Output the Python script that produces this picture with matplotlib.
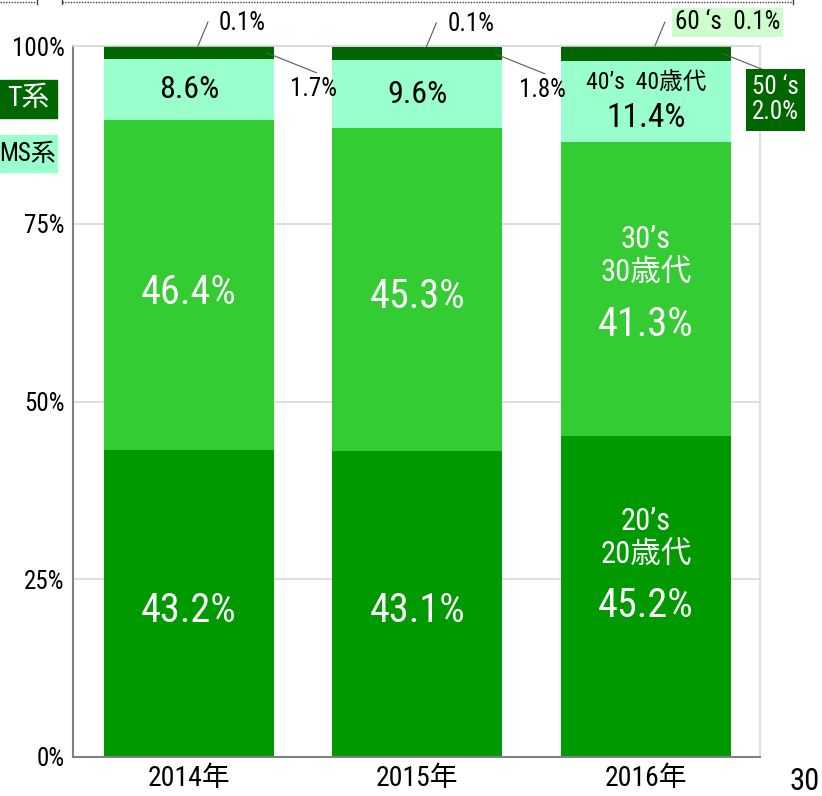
import matplotlib
matplotlib.use("Agg")
import matplotlib.pyplot as plt
from matplotlib.patches import Rectangle
from matplotlib.lines import Line2D

# ======= DATA ==========
years = ["2014年", "2015年", "2016年"]
age_20s = [43.2, 43.1, 45.2]
age_30s = [46.4, 45.3, 41.3]
age_40s = [8.6, 9.6, 11.4]
age_50s = [1.7, 1.8, 2.0]
age_60s = [0.1, 0.1, 0.1]
y_ticks = [0, 25, 50, 75, 100]
# =======================

plt.rcParams['font.family'] = ['Roboto Condensed', 'Noto Sans CJK JP', 'DejaVu Sans']

c20, c30, c40, c50 = "#009900", "#33CC33", "#99FFCC", "#006600"

fig = plt.figure(figsize=(8.22, 7.96), dpi=100)
W, H = 822, 796
ax = fig.add_axes([73 / W, 1 - 757 / H, 687 / W, 711 / H])

x = list(range(len(years)))
w = 0.744
b30 = age_20s
b40 = [a + b for a, b in zip(b30, age_30s)]
b50 = [a + b for a, b in zip(b40, age_40s)]
b60 = [a + b for a, b in zip(b50, age_50s)]
top = [a + b for a, b in zip(b60, age_60s)]

ax.bar(x, age_20s, w, color=c20, zorder=2)
ax.bar(x, age_30s, w, bottom=b30, color=c30, zorder=2)
ax.bar(x, age_40s, w, bottom=b40, color=c40, zorder=2)
ax.bar(x, age_50s, w, bottom=b50, color=c50, zorder=2)
ax.bar(x, age_60s, w, bottom=b60, color=c50, zorder=2)

ax.set_xlim(-0.507, 2.5)
ax.set_ylim(0, 100)
ax.set_yticks(y_ticks)
ax.set_yticklabels([f"{t}%" for t in y_ticks], fontsize=18)
ax.set_xticks(x)
ax.set_xticklabels(years, fontsize=20)
ax.tick_params(length=0)
ax.tick_params(axis='y', pad=6)
ax.tick_params(axis='x', pad=6)
ax.yaxis.grid(True, color="#D9D9D9", lw=1.2, zorder=0)
ax.set_axisbelow(True)
for s in ["top", "right"]:
    ax.spines[s].set_color("#D9D9D9")
    ax.spines[s].set_linewidth(1.2)
for s in ["left", "bottom"]:
    ax.spines[s].set_color("#808080")
    ax.spines[s].set_linewidth(1.5)

# labels inside bars
for i in range(2):
    ax.text(i, age_20s[i] / 2 - 1, f"{age_20s[i]}%", ha="center", va="center", color="white", fontsize=29)
    ax.text(i, b30[i] + age_30s[i] / 2 - 1, f"{age_30s[i]}%", ha="center", va="center", color="white", fontsize=29)
    ax.text(i, b40[i] + age_40s[i] / 2, f"{age_40s[i]}%", ha="center", va="center", color="black", fontsize=23)

i = 2
ax.text(i, age_20s[i] * 0.47, f"{age_20s[i]}%", ha="center", va="center", color="white", fontsize=29)
ax.text(i, age_20s[i] * 0.68, "20’s\n20歳代", ha="center", va="center", color="white", fontsize=22, linespacing=1.25)
ax.text(i, b30[i] + age_30s[i] * 0.38, f"{age_30s[i]}%", ha="center", va="center", color="white", fontsize=29)
ax.text(i, b30[i] + age_30s[i] * 0.61, "30’s\n30歳代", ha="center", va="center", color="white", fontsize=22, linespacing=1.25)
ax.text(i, b40[i] + age_40s[i] * 0.3, f"{age_40s[i]}%", ha="center", va="center", color="black", fontsize=24)
ax.text(i, b40[i] + age_40s[i] * 0.74, "40’s  40歳代", ha="center", va="center", color="black", fontsize=17)

# leader-line labels
lc = "#595959"
for i in range(3):
    a60 = (i + 0.04, top[i])
    a50 = (i + 0.34, b50[i] + age_50s[i] / 2)
    ax.annotate("", xy=a60, xytext=(10, 24), textcoords="offset pixels",
                arrowprops=dict(arrowstyle="-", color=lc, lw=0.8, shrinkA=0, shrinkB=0))
    ax.annotate("", xy=a50, xytext=(50, -20), textcoords="offset pixels",
                arrowprops=dict(arrowstyle="-", color=lc, lw=0.8, shrinkA=0, shrinkB=0))
    if i < 2:
        ax.annotate(f"{age_60s[i]}%", xy=a60, xytext=(21, 23), textcoords="offset pixels",
                    ha="left", va="center", fontsize=18)
        ax.annotate(f"{age_50s[i]}%", xy=a50, xytext=(47, -36), textcoords="offset pixels",
                    ha="center", va="center", fontsize=18)
    else:
        ax.annotate(f"60 ‘s  {age_60s[i]}%", xy=a60, xytext=(20, 24), textcoords="offset pixels",
                    ha="left", va="center", fontsize=18,
                    bbox=dict(boxstyle="square,pad=0.1", fc="#CCFFCC", ec="none"))
        ax.annotate(f"50 ‘s\n{age_50s[i]}%", xy=a50, xytext=(52, -46), textcoords="offset pixels",
                    ha="center", va="center", fontsize=18, color="white", linespacing=1.05,
                    bbox=dict(boxstyle="square,pad=0.25", fc=c50, ec="none"))

# clipped legend pieces on the left
fig.add_artist(Rectangle((0, 1 - 118 / H), 57 / W, 38 / H, transform=fig.transFigure, color=c50))
fig.text(28 / W, 1 - 99 / H, "T系", ha="center", va="center", color="white", fontsize=20)
fig.add_artist(Rectangle((0, 1 - 172 / H), 57 / W, 37 / H, transform=fig.transFigure, color=c40))
fig.text(56 / W, 1 - 154 / H, "MS系", ha="right", va="center", color="black", fontsize=18)

# clipped boxes at the top
fig.add_artist(Line2D([0, 35 / W], [1 - 2 / H] * 2, transform=fig.transFigure, color="#404040", lw=1, ls=(0, (1, 1))))
fig.add_artist(Line2D([62 / W, 793 / W], [1 - 2 / H] * 2, transform=fig.transFigure, color="#404040", lw=1, ls=(0, (1, 1))))
for xv in [37, 62, 793]:
    fig.add_artist(Line2D([xv / W] * 2, [1, 1 - 4 / H], transform=fig.transFigure, color="#404040", lw=1))

fig.text(820 / W, 1 - 782 / H, "30", ha="right", va="center", fontsize=22)

fig.savefig("out.png", dpi=100)
plt.close(fig)
